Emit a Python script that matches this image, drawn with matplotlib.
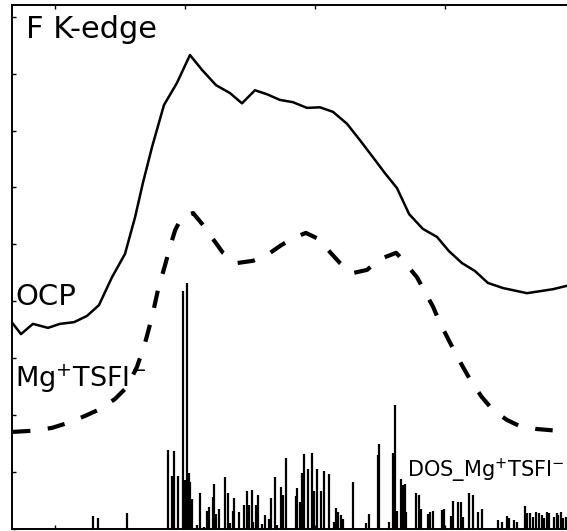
import numpy as np
import matplotlib
matplotlib.use('Agg')
import matplotlib.pyplot as plt

# OCP spectrum (solid)
ocp_e = [683.37, 683.69, 684.15, 684.73, 685.19, 685.73, 686.23, 686.69, 687.19, 687.69,
         688.08, 688.38, 688.73, 689.19, 689.69, 690.19, 690.65, 691.19, 691.73, 692.19,
         692.69, 693.15, 693.65, 694.15, 694.69, 695.19, 695.69, 696.23, 696.73, 697.23,
         697.69, 698.15, 698.62, 699.15, 699.69, 700.15, 700.65, 701.15, 701.65, 702.23,
         703.15, 704.15, 704.69]
ocp_i = [3.61, 3.42, 3.60, 3.53, 3.60, 3.63, 3.74, 3.93, 4.42, 4.83,
         5.48, 6.08, 6.71, 7.45, 7.84, 8.33, 8.07, 7.80, 7.66, 7.48,
         7.71, 7.64, 7.54, 7.50, 7.40, 7.41, 7.33, 7.12, 6.83, 6.53,
         6.25, 5.99, 5.53, 5.27, 5.13, 4.88, 4.67, 4.53, 4.32, 4.23,
         4.14, 4.21, 4.27]

# Mg+TSFI- simulated spectrum (dashed)
mg_e = [683.38, 684.15, 684.88, 685.58, 686.15, 686.73, 687.31, 687.77, 688.15, 688.46,
        688.73, 688.96, 689.23, 689.42, 689.62, 689.88, 690.31, 690.69, 691.08, 691.46,
        692.00, 692.62, 693.15, 693.65, 694.15, 694.65, 695.15, 695.58, 695.96, 696.42,
        697.00, 697.50, 698.12, 698.38, 698.92, 699.23, 699.54, 699.81, 700.08, 700.38,
        700.69, 701.04, 701.42, 701.85, 702.38, 702.88, 703.54, 704.31, 704.69]
mg_i = [1.70, 1.72, 1.77, 1.87, 1.98, 2.10, 2.28, 2.49, 2.84, 3.26,
        3.72, 4.20, 4.63, 4.95, 5.25, 5.48, 5.55, 5.34, 5.09, 4.85,
        4.67, 4.71, 4.81, 4.97, 5.11, 5.20, 5.09, 4.86, 4.67, 4.49,
        4.55, 4.74, 4.85, 4.72, 4.42, 4.16, 3.90, 3.61, 3.37, 3.10,
        2.84, 2.56, 2.31, 2.08, 1.91, 1.80, 1.75, 1.72, 1.70]

# DOS sticks
dos_e = [686.46, 686.65, 687.77, 689.35, 689.50, 689.58, 689.73, 689.92, 690.08, 690.00,
         690.15, 690.19, 690.27, 690.46, 690.58, 690.73, 690.85, 690.92, 691.08, 691.12,
         691.19, 691.31, 691.54, 691.65, 691.73, 691.85, 691.88, 692.08, 692.27, 692.38,
         692.46, 692.58, 692.62, 692.73, 692.81, 692.96, 693.08, 693.23, 693.31, 693.46,
         693.54, 693.69, 693.77, 693.88, 694.27, 694.31, 694.42, 694.50, 694.58, 694.73,
         694.88, 694.96, 695.08, 695.23, 695.35, 695.54, 695.73, 695.81, 695.88, 696.00,
         696.08, 696.46, 696.96, 697.08, 697.42, 697.46, 697.85, 698.00, 698.08, 698.15,
         698.31, 698.38, 698.46, 698.50, 698.88, 699.00, 699.08, 699.35, 699.42, 699.54,
         699.88, 699.96, 700.23, 700.31, 700.50, 700.62, 700.69, 700.92, 701.08, 701.27,
         701.42, 702.04, 702.19, 702.38, 702.46, 702.65, 702.77, 703.08, 703.15, 703.27,
         703.38, 703.50, 703.62, 703.73, 703.81, 703.92, 704.00, 704.19, 704.31, 704.35,
         704.46, 704.54, 704.65]
dos_i = [0.22, 0.19, 0.27, 1.38, 0.92, 1.36, 0.92, 4.18, 4.32, 0.85,
         0.98, 0.82, 0.52, 0.06, 0.62, 0.03, 0.31, 0.38, 0.55, 0.78,
         0.26, 0.34, 0.91, 0.62, 0.10, 0.31, 0.54, 0.29, 0.41, 0.66,
         0.41, 0.68, 0.11, 0.41, 0.59, 0.08, 0.24, 0.17, 0.54, 0.91,
         0.06, 0.73, 0.59, 1.24, 0.57, 0.71, 0.47, 0.98, 1.31, 1.05,
         1.33, 0.66, 1.05, 0.66, 1.01, 0.96, 0.11, 0.36, 0.29, 0.24,
         0.17, 0.82, 0.10, 0.26, 1.29, 1.49, 0.11, 1.33, 2.17, 0.31,
         0.87, 0.77, 0.78, 0.29, 0.62, 0.59, 0.34, 0.26, 0.29, 0.31,
         0.33, 0.34, 0.22, 0.48, 0.47, 0.47, 0.20, 0.62, 0.59, 0.29,
         0.34, 0.15, 0.11, 0.22, 0.18, 0.15, 0.11, 0.40, 0.27, 0.27,
         0.20, 0.29, 0.27, 0.24, 0.18, 0.29, 0.27, 0.20, 0.27, 0.24,
         0.29, 0.18, 0.20]

x_ticks = [685, 690, 695, 700, 705]
y_ticks = [0, 1, 2, 3, 4, 5, 6, 7, 8, 9]

fig = plt.figure(figsize=(5.67, 5.31), dpi=100)
ax = fig.add_axes([0.0212, 0.0047, 0.993, 0.9859])

ax.plot(ocp_e, ocp_i, color='black', lw=1.8)
ax.plot(mg_e, mg_i, color='black', lw=3.0, linestyle=(0, (4.2, 4.2)))
ax.vlines(dos_e, 0, dos_i, color='black', lw=1.6)

ax.set_xlim(683.346, 705)
ax.set_ylim(0, 9.21)
ax.set_xticks(x_ticks)
ax.set_yticks(y_ticks)
ax.tick_params(direction='in', length=3, width=1, top=True, right=True,
               labelbottom=False, labelleft=False)
for s in ax.spines.values():
    s.set_linewidth(1.4)

ax.text(683.88, 8.63, 'F K-edge', fontsize=22, va='baseline')
ax.text(683.46, 3.93, 'OCP', fontsize=21, va='baseline')
ax.text(683.46, 2.49, r'Mg$^{\mathsf{+}}$TSFI$^{\mathsf{-}}$', fontsize=19.5, va='baseline')
ax.text(698.54, 0.91, r'DOS_Mg$^{\mathsf{+}}$TSFI$^{\mathsf{-}}$', fontsize=15, va='baseline')

fig.savefig('out.png', dpi=100)
